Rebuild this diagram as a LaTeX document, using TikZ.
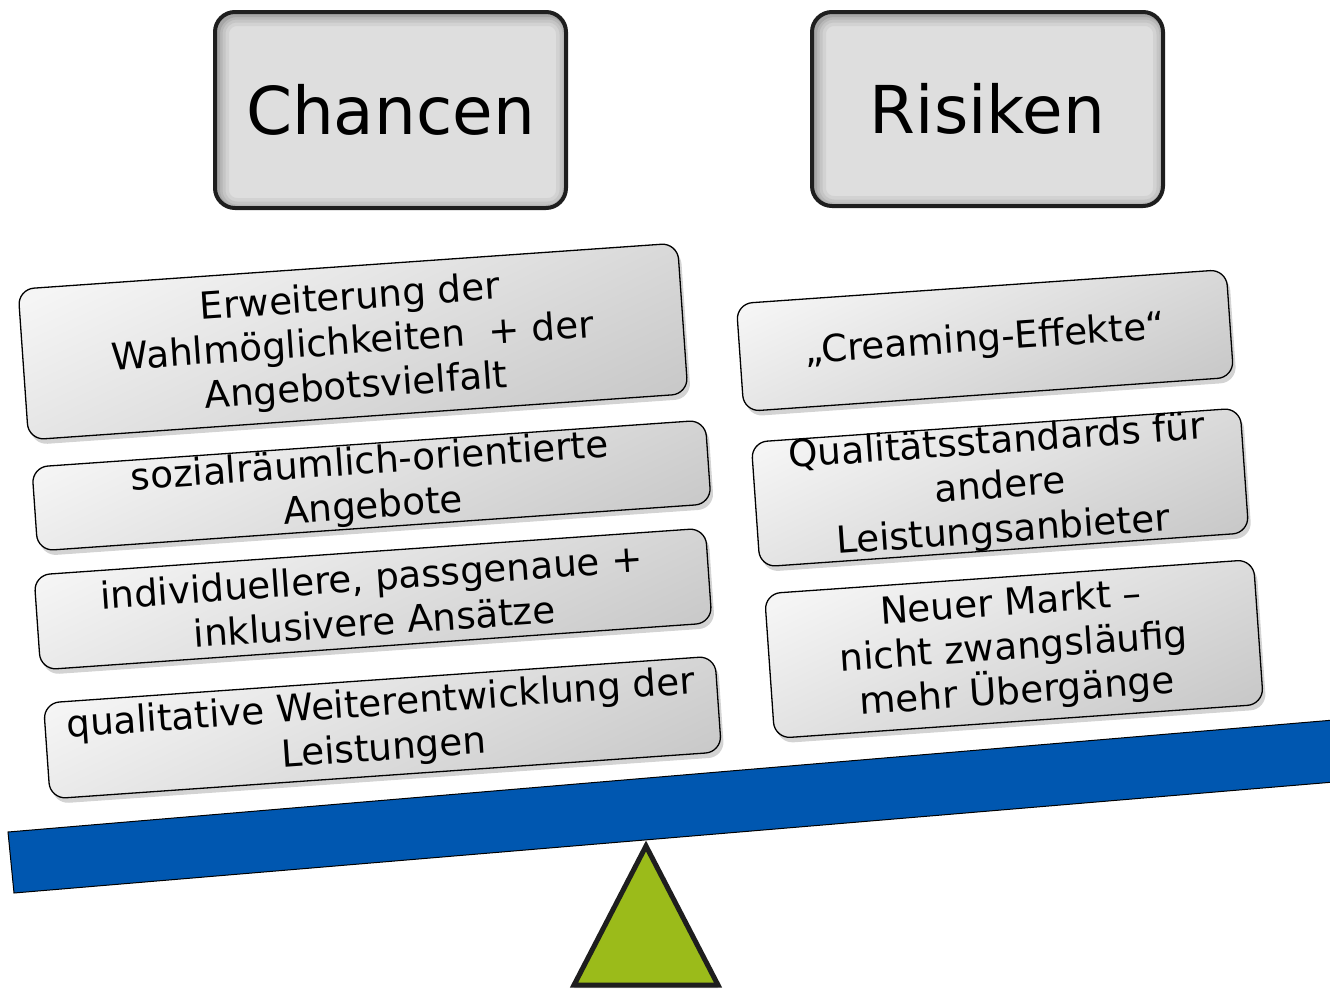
\documentclass[tikz,border=0pt]{standalone}
\usepackage{fontspec}
\setmainfont{DejaVu Sans}
\usetikzlibrary{shadows}
\definecolor{beamblue}{HTML}{0057B0}
\definecolor{fulcrum}{HTML}{9BBB1A}
\definecolor{edge}{HTML}{1E1E1E}
\tikzset{
 headbox/.style={draw=edge, line width=4pt, rounded corners=20pt, fill=gray!26,
   minimum width=351pt, minimum height=196pt, inner sep=0pt,
   font=\fontsize{66}{79}\selectfont,
   path picture={\foreach \w/\o in {24/0.05,17/0.06,11/0.07,6/0.09}{
     \draw[line width=\w pt, black, opacity=\o, rounded corners=20pt]
       ([shift={(2pt,-2pt)}]path picture bounding box.south west) rectangle
       ([shift={(2pt,-2pt)}]path picture bounding box.north east);}}},
 itembox/.style={draw=black, line width=1.3pt, rounded corners=16pt,
   top color=gray!8, bottom color=gray!42, shading angle=25, inner sep=0pt,
   rotate=4, drop shadow={opacity=0.35, shadow xshift=3pt, shadow yshift=-5pt}},
 itemtext/.style={rotate=4, align=center, inner sep=0pt, font=\fontsize{37.3}{44.5}\selectfont},
}
\begin{document}
\begin{tikzpicture}[x=1pt,y=-1pt]
\useasboundingbox (0,0) rectangle (1330,994);

% headers
\node[headbox] (chancen) at (390.5,110) {Chancen};
\node[headbox, minimum height=194pt] (risiken) at (987.5,109) {Risiken};

% left boxes (Chancen)
\node[itembox, minimum width=661pt, minimum height=151pt] (c1) at (353,341.5) {};
\node[itemtext] (c1t) at ([yshift=-2pt]c1.center) {Erweiterung der\\Wahlmöglichkeiten~ + der\\Angebotsvielfalt};
\node[itembox, minimum width=675pt, minimum height=84pt] (c2) at (371.5,485.5) {};
\node[itemtext] (c2t) at (c2.center) {sozialräumlich-orientierte\\Angebote};
\node[itembox, minimum width=673pt, minimum height=95pt] (c3) at (373,599) {};
\node[itemtext] (c3t) at (c3.center) {individuellere, passgenaue +\\inklusivere Ansätze};
\node[itembox, minimum width=673pt, minimum height=96pt] (c4) at (382.5,727.5) {};
\node[itemtext] (c4t) at (c4.center) {qualitative Weiterentwicklung der\\Leistungen};

% right boxes (Risiken)
\node[itembox, minimum width=491pt, minimum height=108pt] (r1) at (985,340.5) {};
\node[itemtext] (r1t) at (r1.center) {„Creaming-Effekte“};
\node[itembox, minimum width=490pt, minimum height=125pt] (r2) at (1000,487.5) {};
\node[itemtext] (r2t) at (r2.center) {Qualitätsstandards für\\andere\\Leistungsanbieter};
\node[itembox, minimum width=490pt, minimum height=145pt] (r3) at (1014,649) {};
\node[itemtext] (r3t) at (r3.center) {Neuer Markt –\\nicht zwangsläufig\\mehr Übergänge};

% fulcrum
\draw[fill=fulcrum, draw=edge, line width=5pt, line join=miter,
      drop shadow={opacity=0.4, shadow xshift=0pt, shadow yshift=-3pt}]
  (646,846) -- (718,985) -- (574,985) -- cycle;

% beam
\draw[fill=beamblue, draw=black, line width=1pt]
  (8,832) -- (1334,720) -- (1334,782) -- (14,893) -- cycle;
\end{tikzpicture}
\end{document}
